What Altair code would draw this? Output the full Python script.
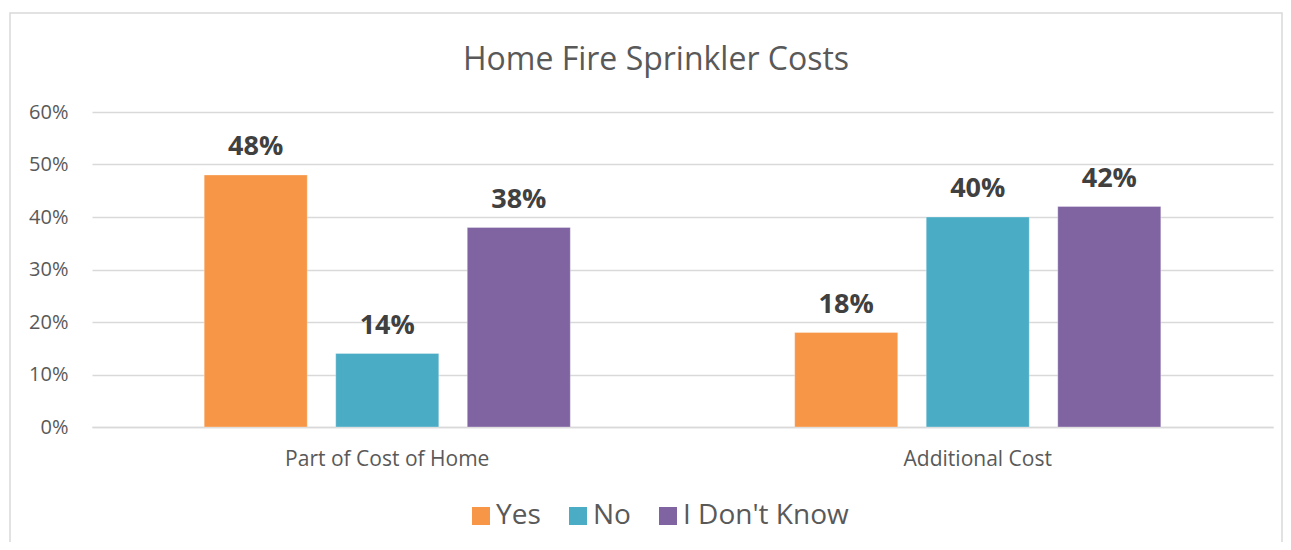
import altair as alt
import pandas as pd

categories = ["Part of Cost of Home", "Additional Cost"]
responses = ["Yes", "No", "I Don't Know"]
yes_vals = [0.48, 0.18]
no_vals = [0.14, 0.40]
idk_vals = [0.38, 0.42]
colors = ["#F79646", "#4BACC6", "#8064A2"]
title_text = "Home Fire Sprinkler Costs"

rows = []
for i, c in enumerate(categories):
    for r, vals in zip(responses, [yes_vals, no_vals, idk_vals]):
        rows.append({"category": c, "response": r, "value": vals[i]})
df = pd.DataFrame(rows)

FONT = "Open Sans"
W, H = 1181, 315

x_enc = alt.X("category:N", sort=categories, title=None,
              scale=alt.Scale(paddingInner=0, paddingOuter=0),
              axis=alt.Axis(labelAngle=0, labelFontSize=21, labelColor="#595959",
                            labelFont=FONT, ticks=False, domainColor="#D9D9D9",
                            domainWidth=1.5, labelPadding=21, grid=False,
                            labelLimit=500))
xoff = alt.XOffset("response:N", sort=responses,
                   scale=alt.Scale(paddingInner=0.2167, paddingOuter=0.853))
y_enc = alt.Y("value:Q", title=None,
              scale=alt.Scale(domain=[0, 0.6], nice=False),
              axis=alt.Axis(values=[0, 0.1, 0.2, 0.3, 0.4, 0.5, 0.6], format=".0%",
                            labelFontSize=20, labelColor="#595959", labelFont=FONT,
                            ticks=False, domain=False, labelPadding=24,
                            gridColor="#D9D9D9", gridWidth=1.5))

base = alt.Chart(df)

bars = base.mark_bar(stroke="white", strokeWidth=0.5, strokeOpacity=0.6).encode(
    x=x_enc, xOffset=xoff, y=y_enc,
    color=alt.Color("response:N", sort=responses,
                    scale=alt.Scale(domain=responses, range=colors),
                    legend=alt.Legend(title=None, orient="none", direction="horizontal",
                                      legendX=375, legendY=390,
                                      symbolType="square", symbolSize=324,
                                      symbolStrokeWidth=0, labelFontSize=28,
                                      labelFont=FONT, labelColor="#595959",
                                      labelOffset=1, columnPadding=23,
                                      labelLimit=400, symbolOpacity=1)),
)

labels = base.mark_text(baseline="alphabetic", dy=-20, fontSize=27, fontWeight="bold",
                        color="#404040", font=FONT).encode(
    x=x_enc, xOffset=xoff, y=y_enc,
    text=alt.Text("value:Q", format=".0%"),
)

one = alt.Data(values=[{"t": title_text}])
title = alt.Chart(one).mark_text(fontSize=32, color="#595959", font=FONT,
                                 baseline="alphabetic", align="center").encode(
    x=alt.value(564), y=alt.value(-42), text="t:N")

frame = alt.Chart(alt.Data(values=[{"a": 1}])).mark_rect(
    fill="transparent", stroke="#D9D9D9", strokeWidth=1.5).encode(
    x=alt.value(-82), x2=alt.value(1190), y=alt.value(-99), y2=alt.value(480))

chart = alt.layer(frame, bars, labels, title).properties(
    width=W, height=H,
    background="white",
    autosize=alt.AutoSizeParams(type="none"),
    padding={"left": 84, "top": 104, "right": 10, "bottom": 115},
).configure_view(strokeWidth=0, stroke="transparent")

chart.save("out.html", embed_options={"renderer": "svg", "actions": False})
